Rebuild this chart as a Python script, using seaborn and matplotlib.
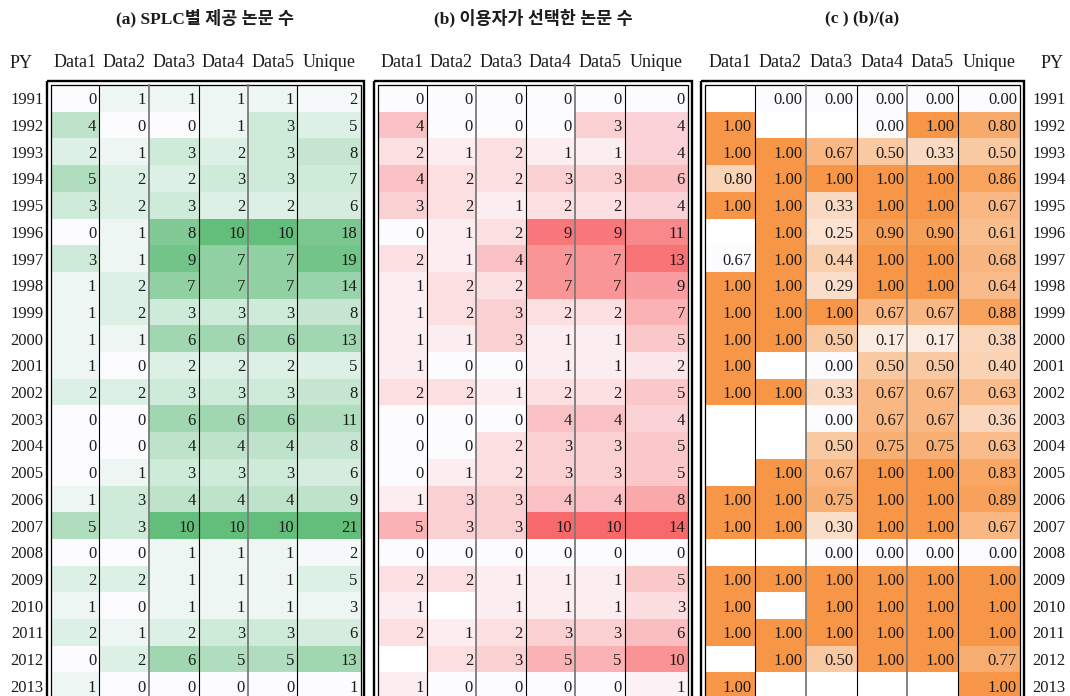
import numpy as np
import pandas as pd
import matplotlib
matplotlib.use("Agg")
import matplotlib.pyplot as plt
import seaborn as sns
from matplotlib.colors import LinearSegmentedColormap
from matplotlib.transforms import offset_copy
from matplotlib.patches import Rectangle

nan = np.nan

years = list(range(1991, 2014))
columns = ["Data1", "Data2", "Data3", "Data4", "Data5", "Unique"]

# (a) papers provided per SPLC
provided = [
    [0, 1, 1, 1, 1, 2],
    [4, 0, 0, 1, 3, 5],
    [2, 1, 3, 2, 3, 8],
    [5, 2, 2, 3, 3, 7],
    [3, 2, 3, 2, 2, 6],
    [0, 1, 8, 10, 10, 18],
    [3, 1, 9, 7, 7, 19],
    [1, 2, 7, 7, 7, 14],
    [1, 2, 3, 3, 3, 8],
    [1, 1, 6, 6, 6, 13],
    [1, 0, 2, 2, 2, 5],
    [2, 2, 3, 3, 3, 8],
    [0, 0, 6, 6, 6, 11],
    [0, 0, 4, 4, 4, 8],
    [0, 1, 3, 3, 3, 6],
    [1, 3, 4, 4, 4, 9],
    [5, 3, 10, 10, 10, 21],
    [0, 0, 1, 1, 1, 2],
    [2, 2, 1, 1, 1, 5],
    [1, 0, 1, 1, 1, 3],
    [2, 1, 2, 3, 3, 6],
    [0, 2, 6, 5, 5, 13],
    [1, 0, 0, 0, 0, 1],
]

# (b) papers selected by users
selected = [
    [0, 0, 0, 0, 0, 0],
    [4, 0, 0, 0, 3, 4],
    [2, 1, 2, 1, 1, 4],
    [4, 2, 2, 3, 3, 6],
    [3, 2, 1, 2, 2, 4],
    [0, 1, 2, 9, 9, 11],
    [2, 1, 4, 7, 7, 13],
    [1, 2, 2, 7, 7, 9],
    [1, 2, 3, 2, 2, 7],
    [1, 1, 3, 1, 1, 5],
    [1, 0, 0, 1, 1, 2],
    [2, 2, 1, 2, 2, 5],
    [0, 0, 0, 4, 4, 4],
    [0, 0, 2, 3, 3, 5],
    [0, 1, 2, 3, 3, 5],
    [1, 3, 3, 4, 4, 8],
    [5, 3, 3, 10, 10, 14],
    [0, 0, 0, 0, 0, 0],
    [2, 2, 1, 1, 1, 5],
    [1, nan, 1, 1, 1, 3],
    [2, 1, 2, 3, 3, 6],
    [nan, 2, 3, 5, 5, 10],
    [1, 0, 0, 0, 0, 1],
]

# (c) ratio (b)/(a)
ratio = [
    [nan, 0.00, 0.00, 0.00, 0.00, 0.00],
    [1.00, nan, nan, 0.00, 1.00, 0.80],
    [1.00, 1.00, 0.67, 0.50, 0.33, 0.50],
    [0.80, 1.00, 1.00, 1.00, 1.00, 0.86],
    [1.00, 1.00, 0.33, 1.00, 1.00, 0.67],
    [nan, 1.00, 0.25, 0.90, 0.90, 0.61],
    [0.67, 1.00, 0.44, 1.00, 1.00, 0.68],
    [1.00, 1.00, 0.29, 1.00, 1.00, 0.64],
    [1.00, 1.00, 1.00, 0.67, 0.67, 0.88],
    [1.00, 1.00, 0.50, 0.17, 0.17, 0.38],
    [1.00, nan, 0.00, 0.50, 0.50, 0.40],
    [1.00, 1.00, 0.33, 0.67, 0.67, 0.63],
    [nan, nan, 0.00, 0.67, 0.67, 0.36],
    [nan, nan, 0.50, 0.75, 0.75, 0.63],
    [nan, 1.00, 0.67, 1.00, 1.00, 0.83],
    [1.00, 1.00, 0.75, 1.00, 1.00, 0.89],
    [1.00, 1.00, 0.30, 1.00, 1.00, 0.67],
    [nan, nan, 0.00, 0.00, 0.00, 0.00],
    [1.00, 1.00, 1.00, 1.00, 1.00, 1.00],
    [1.00, nan, 1.00, 1.00, 1.00, 1.00],
    [1.00, 1.00, 1.00, 1.00, 1.00, 1.00],
    [nan, 1.00, 0.50, 1.00, 1.00, 0.77],
    [1.00, nan, nan, nan, nan, 1.00],
]

titles = ["(a) SPLC별 제공 논문 수", "(b) 이용자가 선택한 논문 수", "(c ) (b)/(a)"]
row_label = "PY"

# ---------------- styling / layout ----------------
plt.rcParams["font.family"] = ["Liberation Serif", "Noto Sans CJK KR", "DejaVu Sans"]

W, H = 1070, 696
fig = plt.figure(figsize=(W / 100, H / 100), dpi=100)
fig.patch.set_facecolor("white")

panel_edges = [
    [50.5, 99.3, 148.7, 198.5, 248.0, 297.3, 360.5],
    [378.0, 426.7, 476.0, 525.7, 575.0, 624.7, 688.0],
    [704.5, 755.0, 805.7, 856.7, 907.3, 957.7, 1020.0],
]
top_px = 85.0
row_h = 26.7
n = len(years)
bottom_px = top_px + n * row_h

cmaps = [
    LinearSegmentedColormap.from_list("g", ["#FCFCFF", "#63BE7B"]),
    LinearSegmentedColormap.from_list("r", ["#FCFCFF", "#F8696B"]),
    LinearSegmentedColormap.from_list("o", ["#FCFCFF", "#F79646"]),
]
# colour-scale groups (column indices sharing one scale)
scale_groups = [
    [[0, 1, 2, 3, 4], [5]],
    [[0, 1, 2, 3, 4], [5]],
    [[0], [1], [2], [3], [4], [5]],
]
fmts = ["{:.0f}", "{:.0f}", "{:.2f}"]
panels = [provided, selected, ratio]
text_color = "#1c1c1c"
num_fs = 12
head_fs = 13


def fx(px):
    return px / W


def fy(py):
    return 1 - py / H


for p, data in enumerate(panels):
    df = pd.DataFrame(data, index=years, columns=columns, dtype=float)
    edges = panel_edges[p]
    vlims = {}
    for grp in scale_groups[p]:
        block = df.iloc[:, grp].to_numpy()
        lo, hi = np.nanmin(block), np.nanmax(block)
        for j in grp:
            vlims[j] = (lo, hi)
    for j, col in enumerate(columns):
        ax = fig.add_axes([fx(edges[j]), fy(bottom_px),
                           fx(edges[j + 1] - edges[j]), (n * row_h) / H])
        lo, hi = vlims[j]
        sns.heatmap(df[[col]], ax=ax, cmap=cmaps[p], vmin=lo, vmax=hi,
                    cbar=False, xticklabels=False, yticklabels=False)
        ax.set_facecolor("white")
        trans = offset_copy(ax.transData, fig=fig, x=-3, y=0, units="dots")
        for i, v in enumerate(df[col].to_numpy()):
            if not np.isnan(v):
                ax.text(1, i + 0.5, fmts[p].format(v), transform=trans,
                        ha="right", va="center_baseline", fontsize=num_fs,
                        color=text_color)
        # column header
        ax.set_xticks([0.5])
        ax.set_xticklabels([col], fontsize=head_fs, color=text_color)
        ax.xaxis.tick_top()
        ax.tick_params(axis="x", length=0, pad=10)
        # row labels
        if (p == 0 and j == 0) or (p == 2 and j == len(columns) - 1):
            ax.set_yticks(np.arange(n) + 0.5)
            ax.set_yticklabels(years, rotation=0, fontsize=num_fs, color=text_color)
            if p == 2:
                ax.yaxis.tick_right()
                ax.tick_params(axis="y", length=0, pad=9)
            else:
                ax.tick_params(axis="y", length=0, pad=5)
    # title
    fig.text(fx((edges[0] + edges[-1]) / 2), fy(18), titles[p], ha="center",
             va="center", fontsize=12.5, fontweight="bold", color=text_color)

fig.text(fx(21), fy(62), row_label, ha="center", va="center_baseline",
         fontsize=head_fs, color=text_color)
fig.text(fx(1052), fy(62), row_label, ha="center", va="center_baseline",
         fontsize=head_fs, color=text_color)

# overlay for borders
ov = fig.add_axes([0, 0, 1, 1])
ov.set_xlim(0, W)
ov.set_ylim(H, 0)
ov.axis("off")
ov.patch.set_alpha(0)
div_styles = [("black", 0.8), ("#7a7a7a", 1.3), ("black", 0.8),
              ("#7a7a7a", 1.3), ("black", 0.8)]
for edges in panel_edges:
    x0, x1 = edges[0], edges[-1]
    ov.add_patch(Rectangle((x0, top_px), x1 - x0, n * row_h, fill=False,
                           ec="black", lw=0.9))
    ov.add_patch(Rectangle((x0 - 3.6, top_px - 3.6), x1 - x0 + 7.2,
                           n * row_h + 7.2, fill=False, ec="black", lw=1.7))
    for j in range(1, 6):
        c, lw = div_styles[j - 1]
        ov.plot([edges[j], edges[j]], [top_px, bottom_px], color=c, lw=lw)

fig.savefig("out.png", dpi=100, facecolor="white")
